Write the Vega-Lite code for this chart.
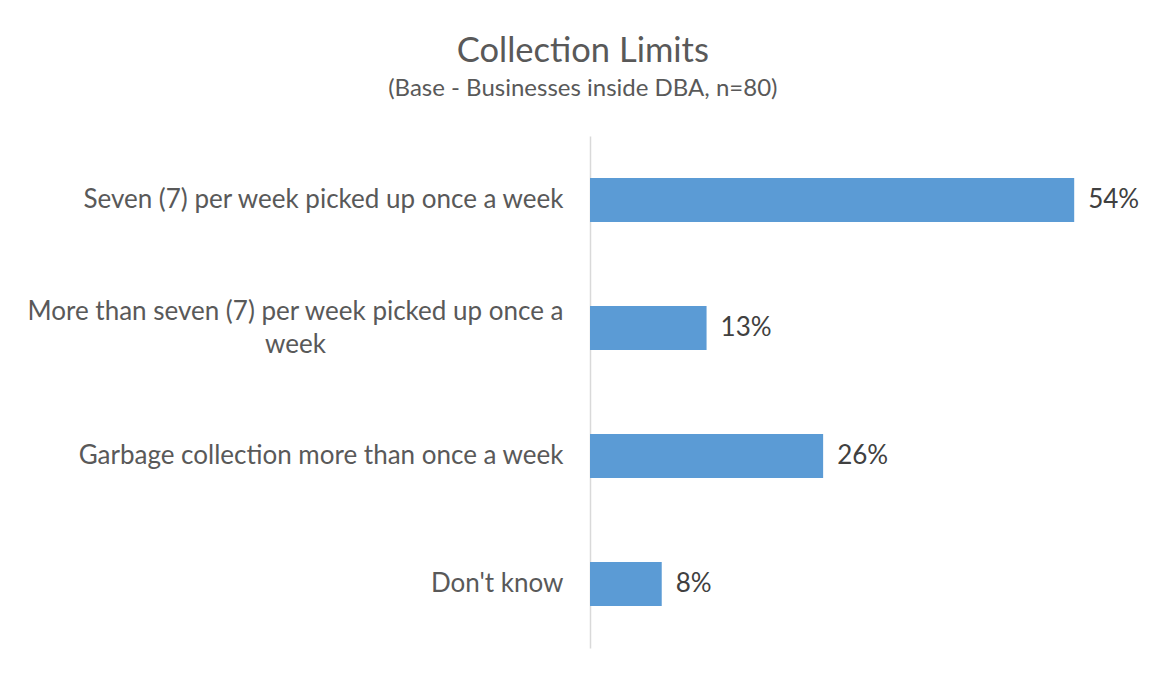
{
  "$schema": "https://vega.github.io/schema/vega-lite/v6.json",
  "autosize": {"type": "none"},
  "width": 538,
  "height": 512,
  "padding": {"left": 590, "top": 136, "right": 25, "bottom": 25},
  "background": "white",
  "title": {
    "text": "Collection Limits",
    "subtitle": "(Base - Businesses inside DBA, n=80)",
    "anchor": "middle",
    "frame": "bounds",
    "font": "Lato",
    "fontSize": 34.5,
    "fontWeight": "normal",
    "color": "#595959",
    "subtitleFont": "Lato",
    "subtitleFontSize": 24,
    "subtitleColor": "#595959",
    "subtitlePadding": 8,
    "offset": 34
  },
  "data": {
    "values": [
      {"category": "Seven (7) per week picked up once a week", "share": 0.54},
      {"category": "More than seven (7) per week picked up once a week", "share": 0.13},
      {"category": "Garbage collection more than once a week", "share": 0.26},
      {"category": "Don't know", "share": 0.08}
    ]
  },
  "encoding": {
    "y": {
      "field": "category",
      "type": "nominal",
      "sort": null,
      "scale": {"paddingInner": 0.656, "paddingOuter": 0.328},
      "axis": {
        "title": null,
        "ticks": false,
        "domainColor": "#D9D9D9",
        "domainWidth": 1.5,
        "labelFont": "Lato",
        "labelFontSize": 26,
        "labelColor": "#595959",
        "labelLimit": 700,
        "labelLineHeight": 33,
        "labelExpr": "datum.value === 'More than seven (7) per week picked up once a week' ? ['More than seven (7) per week picked up once a', 'week'] : datum.label",
        "labelAlign": {"condition": {"test": "datum.value === 'More than seven (7) per week picked up once a week'", "value": "center"}, "value": "right"},
        "labelPadding": {"condition": {"test": "datum.value === 'More than seven (7) per week picked up once a week'", "value": 295}, "value": 27},
        "labelOffset": {"condition": {"test": "datum.value === 'More than seven (7) per week picked up once a week'", "value": -16}, "value": 0}
      }
    },
    "x": {
      "field": "share",
      "type": "quantitative",
      "scale": {"domain": [0, 0.6]},
      "axis": null
    }
  },
  "layer": [
    {"mark": {"type": "bar", "color": "#5B9BD5"}},
    {
      "mark": {"type": "text", "align": "left", "dx": 14, "font": "Lato", "fontSize": 26, "color": "#404040"},
      "encoding": {"text": {"field": "share", "type": "quantitative", "format": ".0%"}}
    }
  ],
  "config": {"view": {"stroke": null}}
}
